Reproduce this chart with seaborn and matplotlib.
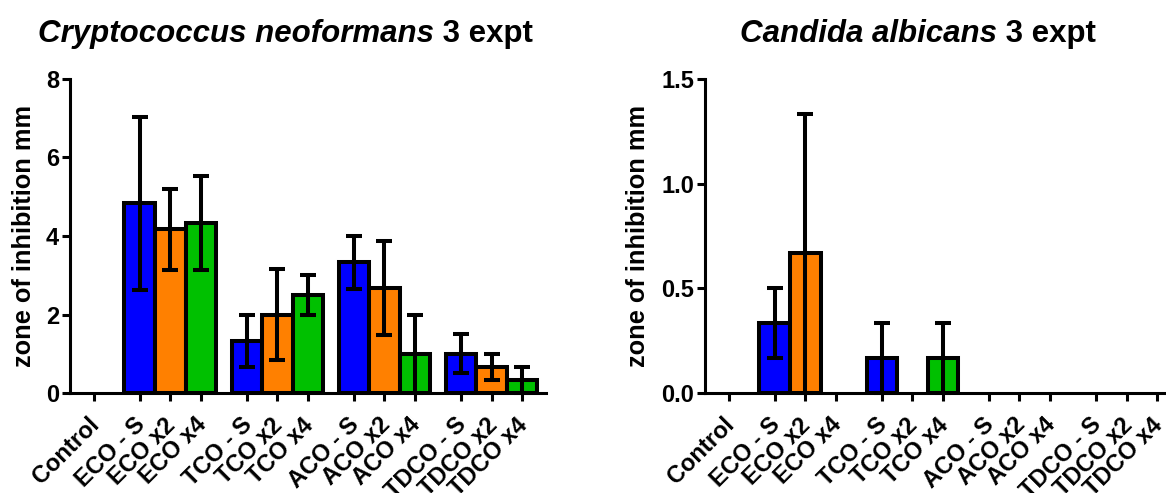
import numpy as np
import pandas as pd
import matplotlib
matplotlib.use("Agg")
import matplotlib.pyplot as plt
import seaborn as sns
from matplotlib.transforms import ScaledTranslation, blended_transform_factory

# Treatments, their oil family and dilution
categories = ["Control", "ECO - S", "ECO x2", "ECO x4",
              "TCO - S", "TCO x2", "TCO x4",
              "ACO - S", "ACO x2", "ACO x4",
              "TDCO - S", "TDCO x2", "TDCO x4"]
families = ["Control", "ECO", "ECO", "ECO", "TCO", "TCO", "TCO",
            "ACO", "ACO", "ACO", "TDCO", "TDCO", "TDCO"]
dilution = ["Control", "S", "x2", "x4", "S", "x2", "x4",
            "S", "x2", "x4", "S", "x2", "x4"]

# Zone of inhibition (mm), mean and SEM of 3 experiments
crypto_mean = [0.0, 4.83, 4.17, 4.33, 1.33, 2.00, 2.50, 3.33, 2.67, 1.00, 1.00, 0.67, 0.33]
crypto_sem = [0.0, 2.20, 1.03, 1.20, 0.67, 1.15, 0.50, 0.67, 1.20, 1.00, 0.50, 0.33, 0.33]
candida_mean = [0.0, 0.333, 0.667, 0.0, 0.167, 0.0, 0.167, 0.0, 0.0, 0.0, 0.0, 0.0, 0.0]
candida_sem = [0.0, 0.167, 0.667, 0.0, 0.167, 0.0, 0.167, 0.0, 0.0, 0.0, 0.0, 0.0, 0.0]

palette = {"Control": "#ffffff", "S": "#0000ff", "x2": "#ff8000", "x4": "#00c000"}

sns.set_theme(style="ticks")
plt.rcParams["font.family"] = ["Liberation Sans", "DejaVu Sans"]
plt.rcParams["font.weight"] = "bold"
for key in ("text.color", "axes.labelcolor", "xtick.color", "ytick.color",
            "axes.edgecolor"):
    plt.rcParams[key] = "black"

# x positions: one unit between bars of a family, a half-unit gap between families
xpos = []
for i, fam in enumerate(families):
    if i == 0:
        xpos.append(0.0)
    else:
        xpos.append(xpos[-1] + (1.0 if fam == families[i - 1] else 1.5))
xpos = np.array(xpos)

W, H = 1166, 493
fig = plt.figure(figsize=(W / 100, H / 100), dpi=100)

LW = 2.9


def panel(rect, mean, sem, ylim, yticks, yfmt, label_x):
    ax = fig.add_axes(rect)
    df = pd.DataFrame({"x": xpos, "y": mean, "dose": dilution})
    sns.barplot(data=df, x="x", y="y", hue="dose", palette=palette,
                saturation=1, native_scale=True, dodge=False, width=1.0,
                errorbar=None, edgecolor="black", linewidth=LW, legend=False,
                ax=ax, zorder=2)
    for p in ax.patches:
        if p.get_height() == 0:
            p.set_visible(False)
    m = np.array(mean)
    s = np.array(sem)
    keep = s > 0
    ax.errorbar(xpos[keep], m[keep], yerr=s[keep], fmt="none", ecolor="black",
                elinewidth=LW, capsize=6.1, capthick=LW, zorder=3, clip_on=False)
    ax.set_xlim(-0.78, 14.78)
    ax.set_ylim(*ylim)
    ax.set_yticks(yticks)
    ax.set_yticklabels([yfmt.format(v) for v in yticks], fontsize=17,
                       fontweight="bold")
    ax.set_xticks(xpos)
    ax.set_xticklabels([])
    # slanted category labels hanging below each tick
    base = blended_transform_factory(ax.transData, ax.transAxes)
    shift = ScaledTranslation(2 / 100, -28.5 / 100, fig.dpi_scale_trans)
    for x, name in zip(xpos, categories):
        ax.text(x, 0, name, transform=base + shift, rotation=45,
                rotation_mode="anchor", ha="right", va="center",
                fontsize=17, fontweight="bold", clip_on=False)
    ax.set_xlabel("")
    ax.set_ylabel("zone of inhibition mm", fontsize=18.3, fontweight="bold")
    ax.yaxis.set_label_coords(label_x, 0.5)
    sns.despine(ax=ax)
    for sp in ("left", "bottom"):
        ax.spines[sp].set_linewidth(2.2)
        ax.spines[sp].set_color("black")
    ax.tick_params(axis="both", direction="out", length=6, width=2.2,
                   color="black", pad=2, labelcolor="black")
    ax.set_facecolor("white")
    return ax


bottom = 100 / H
height = 314 / H
ax1 = panel([70 / W, bottom, 476 / W, height], crypto_mean, crypto_sem,
            (0, 8), [0, 2, 4, 6, 8], "{:g}", -0.072)
ax2 = panel([705 / W, bottom, 476 / W, height], candida_mean, candida_sem,
            (0, 1.5), [0.0, 0.5, 1.0, 1.5], "{:.1f}", -0.116)


def two_part_title(xc, y_base, species, rest, size=22.5):
    r = fig.canvas.get_renderer()
    t1 = fig.text(0, 1 - y_base / H, species, fontsize=size, fontweight="bold",
                  fontstyle="italic", ha="left", va="baseline")
    t2 = fig.text(0, 1 - y_base / H, " " + rest, fontsize=size, fontweight="bold",
                  ha="left", va="baseline")
    w1 = t1.get_window_extent(r).width
    w2 = t2.get_window_extent(r).width
    x0 = xc - (w1 + w2) / 2
    t1.set_x(x0 / W)
    t2.set_x((x0 + w1) / W)


fig.canvas.draw()
two_part_title(285, 42, "Cryptococcus neoformans", "3 expt")
two_part_title(918, 42, "Candida albicans", "3 expt")

fig.savefig("out.png", dpi=100, facecolor="white")
